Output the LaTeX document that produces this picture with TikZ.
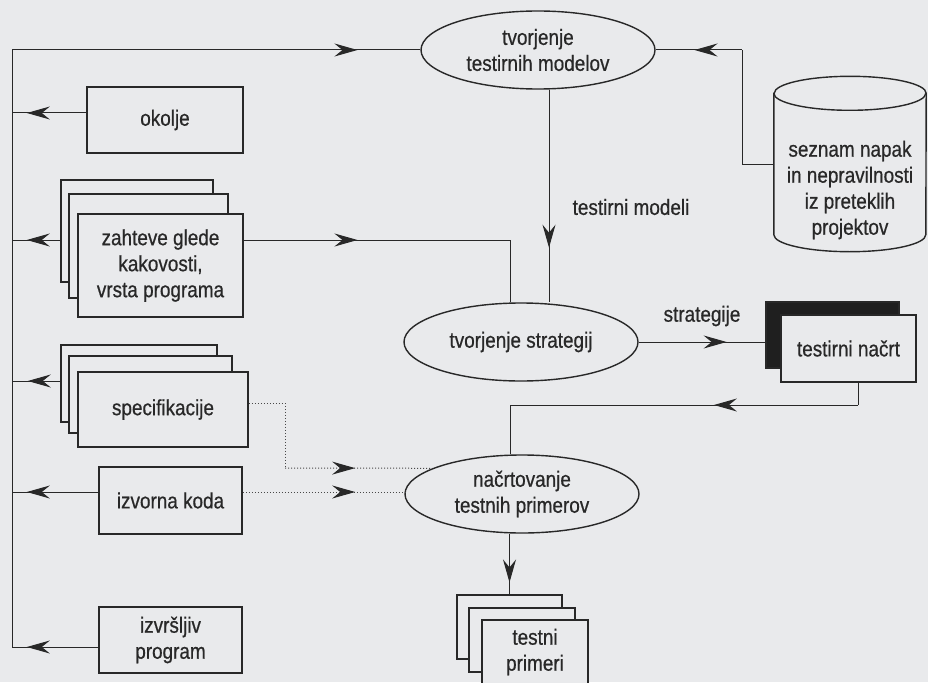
\documentclass[tikz,border=0pt]{standalone}
\usepackage{fontspec}
\setmainfont{Liberation Sans}[FakeStretch=0.86, FakeBold=0.6]
\usetikzlibrary{shapes.geometric,arrows.meta,decorations.markings,positioning}
\definecolor{paper}{RGB}{233,234,236}
\definecolor{ink}{RGB}{40,40,40}
\newcommand{\boxfont}{\fontsize{22}{26}\selectfont}

\begin{document}
\begin{tikzpicture}[x=1pt,y=-1pt]
	\tikzstyle{box}=[rectangle, draw=ink, line width=1.6pt, fill=paper, inner sep=0pt, align=center, font=\boxfont, text=ink]
	\tikzstyle{task}=[ellipse, draw=ink, line width=1.4pt, fill=paper, inner sep=0pt, align=center, minimum width=234pt, minimum height=78pt, font=\boxfont, text=ink]
	\tikzstyle{store}=[draw=ink, line width=1.4pt]
	\tikzstyle{link}=[ink, line width=1pt]
	\tikzstyle{dots}=[ink!85, line width=1pt, dotted]
	\tikzset{flow/.style={postaction={decorate}, decoration={markings, mark=at position #1 with {\arrow{Stealth[length=23pt, width=13pt, inset=8pt, color=ink]}}}}}
	\useasboundingbox (0,0) rectangle (928,682);
	\clip (0,0) rectangle (928,682);
	\fill[paper] (0,0) rectangle (928,682);
	% processes
	\node[task] (modeli) at (538,50) {tvorjenje\\testirnih modelov};
	\node[task] (strat) at (521,342) {tvorjenje strategij};
	\node[task] (plan) at (522,494) {načrtovanje\\testnih primerov};
	% store of past faults
	\node[rectangle, inner sep=0pt, minimum width=152pt, minimum height=175pt] (db) at (850,164) [label={[yshift=-26pt, align=center, font=\boxfont, text=ink]center:{seznam napak\\in nepravilnosti\\iz preteklih\\projektov}}] {};
	\draw[store] ([yshift=-17pt]db.north west) -- ([yshift=17pt]db.south west)
		arc[start angle=180, end angle=360, x radius=76pt, y radius=17pt]
		-- ([yshift=-17pt]db.north east)
		arc[start angle=0, end angle=180, x radius=76pt, y radius=17pt] -- cycle;
	\draw[store] ([yshift=-17pt]db.north west) arc[start angle=180, end angle=360, x radius=76pt, y radius=17pt];
	% inputs on the left
	\node[box, minimum width=156pt, minimum height=66pt] (okolje) at (165,120) {okolje};
	\node[box, minimum width=152pt, minimum height=102pt] (zahteve-c) at (137,231) {};
	\node[box, minimum width=159pt, minimum height=104pt] (zahteve-b) at (148.5,246) {};
	\node[box, minimum width=165pt, minimum height=103pt] (zahteve) at (160.5,265.5) {zahteve glede\\kakovosti,\\vrsta programa};
	\node[box, minimum width=156pt, minimum height=77pt] (spec-c) at (139,383.5) {};
	\node[box, minimum width=163pt, minimum height=77pt] (spec-b) at (150.5,394.5) {};
	\node[box, minimum width=170pt, minimum height=75pt] (spec) at (163,409.5) {specifikacije};
	\node[box, minimum width=143pt, minimum height=67pt] (koda) at (170.5,500.5) {izvorna koda};
	\node[box, minimum width=143pt, minimum height=66pt] (exe) at (170.5,640) {izvršljiv\\program};
	% outputs
	\node[box, fill=black!88, minimum width=133pt, minimum height=66pt] (nacrt-b) at (832.5,335) {};
	\node[box, minimum width=135pt, minimum height=67pt] (nacrt) at (848.5,348.5) {testirni načrt};
	\node[box, minimum width=105pt, minimum height=64pt] (primeri-c) at (509.5,627) {};
	\node[box, minimum width=106pt, minimum height=64pt] (primeri-b) at (522,640) {};
	\node[box, minimum width=106pt, minimum height=64pt] (primeri) at (535,652) {testni\\primeri};
	% edge labels
	\node[font=\boxfont, text=ink] (lbl-modeli) at (631,207) {testirni modeli};
	\node[font=\boxfont, text=ink] (lbl-strat) at (702,316) {strategije};
	% bus on the left
	\coordinate (bus-top) at (12,50);
	\coordinate (in-okolje) at (12,113);
	\coordinate (in-zahteve) at (12,240);
	\coordinate (in-spec) at (12,381);
	\coordinate (in-koda) at (12,492);
	\coordinate (in-exe) at (12,647);
	\draw[link] (bus-top) -- (in-exe);
	\draw[link, flow=0.846] (bus-top) -- (modeli.west);
	\draw[link, flow=0.8] (okolje.west |- in-okolje) -- (in-okolje);
	\draw[link, flow=0.694] (zahteve-c.west |- in-zahteve) -- (in-zahteve);
	\draw[link, flow=0.673] (spec-c.west |- in-spec) -- (in-spec);
	\draw[link, flow=0.828] (koda.west |- in-koda) -- (in-koda);
	\draw[link, flow=0.828] (exe.west |- in-exe) -- (in-exe);
	% main flow
	\coordinate (models-axis) at (549,200);
	\coordinate (strat-turn) at (510,240);
	\coordinate (db-bend) at (742,50);
	\coordinate (nacrt-turn) at (858,405);
	\coordinate (plan-turn) at (510,405);
	\draw[link, flow=0.743] (modeli.south -| models-axis) -- (strat.north -| models-axis);
	\draw[link, flow=0.427] (zahteve.east |- strat-turn) -- (strat-turn);
	\draw[link] (strat-turn) -- (strat.north -| strat-turn);
	\draw[link] (db.west) -| (db-bend);
	\draw[link, flow=0.55] (db-bend) -- (modeli.east);
	\draw[link, flow=0.695] (strat.east) -- (strat.east -| nacrt-b.west);
	\draw[link] (nacrt.south -| nacrt-turn) -- (nacrt-turn);
	\draw[link, flow=0.414] (nacrt-turn) -- (plan-turn);
	\draw[link] (plan-turn) -- (plan.north -| plan-turn);
	\draw[link, flow=0.806] (plan.south -| primeri-c.north) -- (primeri-c.north);
	% dotted inputs
	\coordinate (spec-turn) at (285,403);
	\coordinate (spec-in) at (285,468);
	\coordinate (dot-koda) at (405,492);
	\draw[dots] (spec.east |- spec-turn) -- (spec-turn) -- (spec-in);
	\draw[dots, flow=0.476] (spec-in) -- (plan.164);
	\draw[dots, flow=0.693] (koda.east |- dot-koda) -- (dot-koda);
\end{tikzpicture}
\end{document}
